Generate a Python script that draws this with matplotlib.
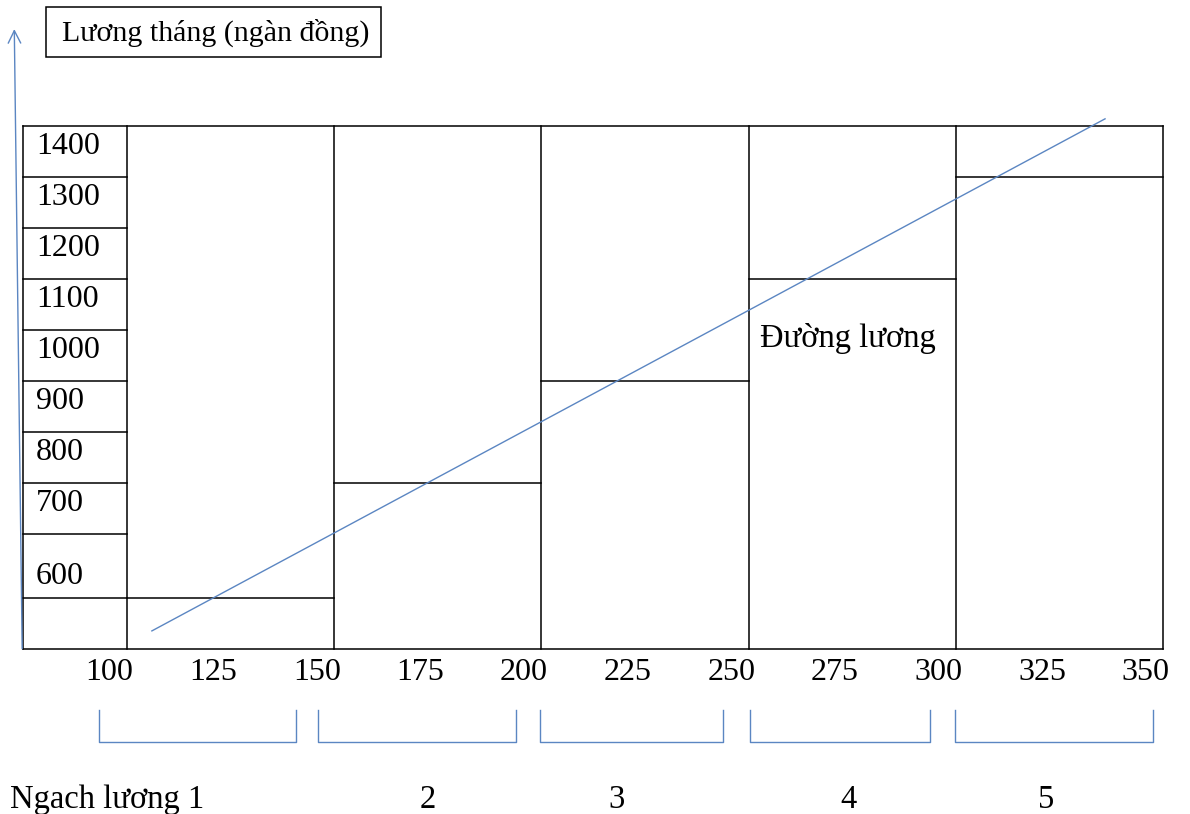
import numpy as np
import matplotlib.pyplot as plt
from matplotlib.patches import Rectangle

# salary scale (ngàn đồng) on the left column
row_values = [1400, 1300, 1200, 1100, 1000, 900, 800, 700, 600]
row_bounds = [1400, 1300, 1200, 1100, 1000, 900, 800, 700, 600, 475, 375]
# coefficient / x ticks
x_ticks = [100, 125, 150, 175, 200, 225, 250, 275, 300, 325, 350]
grade_edges = [100, 150, 200, 250, 300, 350]
grade_salary = [475, 700, 900, 1100, 1300]
grade_names = ['Ngach lương 1', '2', '3', '4', '5']
# đường lương (two ends)
line_x = [106, 336]
line_y = [410, 1414]
# brackets under the ticks
br_left = [93.2, 146.1, 199.7, 250.3, 299.8]
br_right = [140.8, 193.9, 243.8, 293.8, 347.6]

plt.rcParams['font.family'] = ['Liberation Serif', 'DejaVu Serif']
blue = '#5b86c2'
lw = 1.1

fig = plt.figure(figsize=(11.9, 8.14), dpi=100)
ax = fig.add_axes([0, 0, 1, 1])
ax.set_xlim(69.35, 356.5)
ax.set_ylim(51, 1647)
ax.axis('off')

left = 75
top, bottom = row_bounds[0], row_bounds[-1]

# outer frame + column lines
ax.plot([left, grade_edges[-1]], [top, top], color='k', lw=lw)
ax.plot([left, grade_edges[-1]], [bottom, bottom], color='k', lw=lw)
ax.plot([left, left], [bottom, top], color='k', lw=lw)
for xe in grade_edges:
    ax.plot([xe, xe], [bottom, top], color='k', lw=lw)

# rows of the salary column
for v in row_bounds[1:-1]:
    ax.plot([left, 100], [v, v], color='k', lw=lw)

# step of each grade
for i, s in enumerate(grade_salary):
    ax.plot([grade_edges[i], grade_edges[i + 1]], [s, s], color='k', lw=lw)

# row labels
for v in row_values:
    yy = v - 40 if v > 600 else row_bounds[-2] + 42
    ax.text(78, yy, str(v), fontsize=23, ha='left', va='center')

# x tick labels
for t in x_ticks:
    ax.text(t - 4.2, 329, str(t), fontsize=23, ha='center', va='center')

# salary line
ax.plot(line_x, line_y, color=blue, lw=1.0)
ax.text(252.8, 984, 'Đường lương', fontsize=23.5, ha='left', va='center')

# vertical axis arrow
ax.annotate('', xy=(72.8, 1590), xytext=(74.7, bottom),
            arrowprops=dict(arrowstyle='->,head_length=0.9,head_width=0.45',
                            color=blue, lw=1.0, shrinkA=0, shrinkB=0))

# title box
ax.add_patch(Rectangle((80.4, 1535), 161.3 - 80.4, 1633 - 1535,
                       fill=False, ec='k', lw=lw))
ax.text(84.3, 1582, 'Lương tháng (ngàn đồng)', fontsize=21.5,
        ha='left', va='center')

# brackets and grade names
for a, b in zip(br_left, br_right):
    ax.plot([a, a, b, b], [255, 192, 192, 255], color=blue, lw=1.0)

name_x = [71.8, 172.6, 218.2, 274.0, 321.8]
for i, nm in enumerate(grade_names):
    ax.text(name_x[i], 79, nm, fontsize=23.5,
            ha='left' if i == 0 else 'center', va='center')

fig.savefig('out.png', dpi=100)
